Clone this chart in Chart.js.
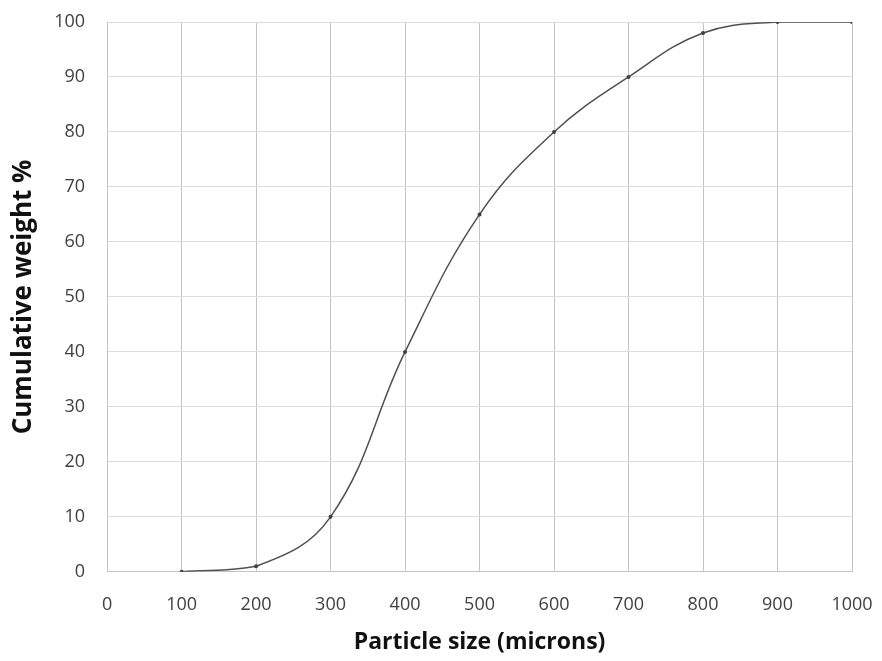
<!DOCTYPE html>
<html>
<head>
<meta charset="utf-8">
<script src="https://cdn.jsdelivr.net/npm/chart.js@4"></script>
<style>
  html, body { margin: 0; padding: 0; background: #fff; }
  #wrap { width: 882px; height: 661px; }
</style>
</head>
<body>
<div id="wrap"><canvas id="sizeChart" width="882" height="661"></canvas></div>
<script>
// particle size (microns) and cumulative weight %
let sizes = [100, 200, 300, 400, 500, 600, 700, 800, 900, 1000];
let cumWeight = [0, 1, 10, 40, 65, 80, 90, 98, 100, 100];

let xTicks = [0, 100, 200, 300, 400, 500, 600, 700, 800, 900, 1000];
let yTicks = [0, 10, 20, 30, 40, 50, 60, 70, 80, 90, 100];

let points = sizes.map((s, i) => ({ x: s, y: cumWeight[i] }));

let ctx = document.getElementById('sizeChart').getContext('2d');

let sizeChart = new Chart(ctx, {
    type: 'line',
    data: {
        datasets: [{
            data: points,
            borderColor: '#505050',
            borderWidth: 1.5,
            backgroundColor: '#404040',
            pointRadius: 2,
            pointBorderWidth: 0,
            tension: 0.4,
            fill: false
        }]
    },
    options: {
        responsive: false,
        animation: false,
        layout: { padding: { top: 22, right: 30, bottom: 5, left: 8 } },
        plugins: {
            legend: { display: false },
            tooltip: { enabled: false }
        },
        scales: {
            x: {
                type: 'linear',
                min: xTicks[0],
                max: xTicks[xTicks.length - 1],
                afterBuildTicks: axis => { axis.ticks = xTicks.map(v => ({ value: v })); },
                afterFit: axis => { axis.paddingRight = 0; },
                grid: { color: '#c4c4c4', lineWidth: 1, drawTicks: false },
                border: { color: '#c4c4c4' },
                ticks: {
                    color: '#404040',
                    padding: 22,
                    maxRotation: 0,
                    minRotation: 0,
                    callback: v => String(v),
                    font: { family: 'Open Sans', size: 18 }
                },
                title: {
                    display: true,
                    text: 'Particle size (microns)',
                    color: '#111111',
                    padding: { top: -9, bottom: 0 },
                    font: { family: 'Open Sans', size: 23, weight: 'bold' }
                }
            },
            y: {
                min: yTicks[0],
                max: yTicks[yTicks.length - 1],
                afterBuildTicks: axis => { axis.ticks = yTicks.map(v => ({ value: v })); },
                afterFit: axis => { axis.paddingTop = 0; },
                grid: { color: '#dcdcdc', lineWidth: 1, drawTicks: false },
                border: { color: '#c4c4c4' },
                ticks: {
                    color: '#404040',
                    padding: 22,
                    font: { family: 'Open Sans', size: 18 }
                },
                title: {
                    display: true,
                    text: 'Cumulative weight %',
                    color: '#111111',
                    padding: { top: 0, bottom: -7 },
                    font: { family: 'Open Sans', size: 26, weight: 'bold' }
                }
            }
        }
    }
});
</script>
</body>
</html>
